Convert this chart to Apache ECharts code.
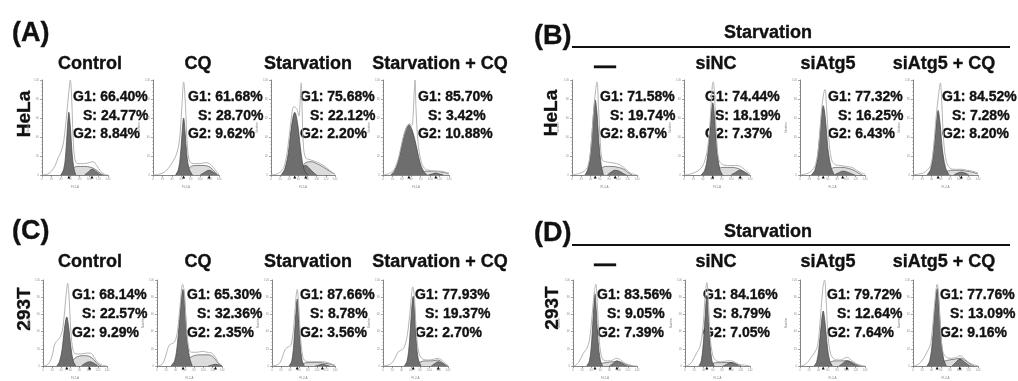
<!DOCTYPE html>
<html>
<head>
<meta charset="utf-8">
<script src="https://cdn.jsdelivr.net/npm/echarts@6/dist/echarts.min.js"></script>
<style>
html, body { margin: 0; padding: 0; background: #fff; }
#main { width: 1018px; height: 381px; }
</style>
</head>
<body>
<div id="main"></div>
<script>
// ---- labels ----
var panelLetters = ['(A)', '(B)', '(C)', '(D)'];
var cellLines = ['HeLa', '293T'];
var treatTitles = ['Control', 'CQ', 'Starvation', 'Starvation + CQ'];
var siTitles = ['\u2014', 'siNC', 'siAtg5', 'siAtg5 + CQ'];
var headerText = 'Starvation';

// order: A1..A4, B1..B4, C1..C4, D1..D4
var g1Pct = ['66.40', '61.68', '75.68', '85.70', '71.58', '74.44', '77.32', '84.52',
             '68.14', '65.30', '87.66', '77.93', '83.56', '84.16', '79.72', '77.76'];
var sPct  = ['24.77', '28.70', '22.12', '3.42', '19.74', '18.19', '16.25', '7.28',
             '22.57', '32.36', '8.78', '19.37', '9.05', '8.79', '12.64', '13.09'];
var g2Pct = ['8.84', '9.62', '2.20', '10.88', '8.67', '7.37', '6.43', '8.20',
             '9.29', '2.35', '3.56', '2.70', '7.39', '7.05', '7.64', '9.16'];

// ---- histograms, [FL2-A, count %] ----
// A: HeLa
var aCtrlRaw = [[0,0],[12,1],[20,4],[28,10],[34,18],[40,24],[46,35],[52,62],[57,88],[60,100],[63,80],[66,40],[70,16],[76,12],[88,12],[100,13],[108,14],[116,10],[124,4],[132,1],[140,0]];
var aCtrlG1 = [[40,0],[46,6],[50,20],[54,50],[57,66],[60,52],[64,22],[68,6],[72,0]];
var aCtrlS = [[60,0],[66,6],[74,9],[90,9],[104,8],[116,5],[126,1],[132,0]];
var aCtrlG2 = [[90,0],[98,3],[106,6],[114,4],[122,1],[128,0]];

var aCqRaw = [[0,0],[14,1],[24,3],[34,8],[42,14],[50,22],[56,36],[61,70],[65,98],[69,72],[73,30],[78,14],[88,12],[100,12],[112,13],[120,12],[128,8],[136,3],[140,1]];
var aCqG1 = [[48,0],[54,6],[58,20],[62,46],[65,60],[68,46],[72,20],[77,6],[84,0]];
var aCqS = [[68,0],[76,7],[88,10],[104,10],[118,9],[128,5],[136,1],[140,0]];
var aCqG2 = [[100,0],[110,3],[119,5],[128,3],[136,0]];

var aStRaw = [[0,0],[12,1],[20,3],[28,8],[36,26],[44,58],[50,72],[56,70],[61,62],[64,80],[66,97],[68,70],[71,30],[76,18],[86,16],[98,14],[108,12],[118,9],[128,5],[136,2],[140,1]];
var aStG1 = [[22,0],[30,6],[38,24],[45,52],[52,66],[58,55],[64,30],[70,10],[76,2],[82,0]];
var aStS = [[60,0],[68,8],[76,13],[88,14],[100,12],[112,9],[122,6],[132,3],[140,1]];
var aStG2 = [[56,0],[62,4],[70,9],[76,10],[84,7],[92,3],[100,0]];

var aStCqRaw = [[0,0],[10,1],[18,3],[26,8],[34,20],[42,38],[50,50],[56,54],[61,52],[64,64],[66,85],[68,100],[70,70],[74,36],[80,16],[88,7],[98,5],[110,4],[122,4],[132,3],[140,2]];
var aStCqG1 = [[16,0],[24,4],[32,14],[40,32],[48,48],[55,53],[62,47],[70,32],[78,14],[86,4],[94,0]];
var aStCqS = [[70,0],[80,3],[95,4],[110,4],[125,3],[135,2],[140,1]];
var aStCqG2 = [[96,0],[104,1],[112,2],[120,1],[128,0]];

// B: HeLa, starvation
var bNoneRaw = [[0,0],[10,1],[18,2],[26,4],[34,9],[40,26],[46,64],[51,90],[54,98],[57,72],[61,34],[65,16],[72,14],[84,13],[96,12],[106,10],[116,6],[126,2],[140,0]];
var bNoneG1 = [[28,0],[34,6],[40,24],[45,56],[50,79],[54,64],[58,34],[63,10],[68,0]];
var bNoneS = [[55,0],[62,6],[72,9],[86,9],[100,8],[112,6],[122,2],[130,0]];
var bNoneG2 = [[76,0],[84,3],[93,5],[102,4],[112,1],[118,0]];

var bNcRaw = [[0,0],[14,1],[24,3],[34,6],[42,12],[50,28],[56,62],[60,94],[62,98],[65,80],[69,40],[74,16],[82,11],[96,10],[110,10],[120,9],[130,5],[138,2],[140,1]];
var bNcG1 = [[36,0],[44,5],[50,20],[56,52],[61,76],[65,60],[70,26],[76,6],[82,0]];
var bNcS = [[64,0],[72,6],[84,8],[100,8],[114,7],[126,4],[136,1],[140,0]];
var bNcG2 = [[100,0],[110,3],[119,5],[128,3],[136,0]];

var bAtgRaw = [[0,0],[10,1],[18,2],[26,5],[34,12],[40,30],[46,66],[51,86],[54,90],[57,72],[62,38],[68,16],[76,11],[88,10],[100,9],[112,8],[122,5],[132,2],[140,1]];
var bAtgG1 = [[24,0],[32,5],[38,20],[44,50],[50,73],[55,58],[60,28],[67,8],[74,0]];
var bAtgS = [[56,0],[64,5],[76,8],[90,8],[104,7],[116,5],[126,2],[134,0]];
var bAtgG2 = [[74,0],[82,2],[92,4],[102,3],[112,1],[118,0]];

var bAtgCqRaw = [[0,0],[12,1],[22,2],[30,5],[38,10],[44,28],[50,62],[55,84],[59,97],[62,76],[66,36],[72,14],[80,7],[92,6],[104,6],[116,5],[128,4],[140,2]];
var bAtgCqG1 = [[30,0],[38,6],[44,24],[50,54],[54,68],[58,56],[63,28],[70,8],[78,0]];
var bAtgCqS = [[60,0],[70,3],[84,5],[100,5],[116,4],[128,3],[140,1]];
var bAtgCqG2 = [[88,0],[96,2],[104,3],[112,2],[120,0]];

// C: 293T
var cCtrlRaw = [[0,0],[8,1],[14,4],[20,12],[26,26],[32,30],[38,34],[44,46],[50,80],[54,96],[57,80],[61,40],[66,18],[72,14],[84,14],[96,15],[104,15],[112,10],[120,4],[130,1],[140,0]];
var cCtrlG1 = [[30,0],[36,5],[42,20],[47,44],[52,57],[56,46],[61,22],[66,6],[72,0]];
var cCtrlS = [[58,0],[66,7],[76,11],[90,12],[102,11],[112,7],[120,2],[128,0]];
var cCtrlG2 = [[84,0],[92,3],[102,5],[112,3],[120,0]];

var cCqRaw = [[0,0],[8,1],[14,4],[20,14],[26,24],[32,26],[38,28],[44,40],[50,72],[55,95],[59,86],[63,48],[68,22],[74,16],[86,16],[98,17],[108,16],[118,15],[126,10],[132,4],[140,1]];
var cCqG1 = [[30,0],[38,6],[44,26],[50,64],[56,89],[60,70],[65,32],[70,10],[76,0]];
var cCqS = [[60,0],[68,8],[80,12],[96,13],[110,13],[120,11],[128,6],[134,2],[140,0]];
var cCqG2 = [[110,0],[118,1],[126,2],[134,1],[140,0]];

var cStRaw = [[0,0],[10,1],[18,4],[24,12],[30,20],[36,22],[42,24],[48,44],[53,78],[56,89],[59,74],[63,36],[68,12],[74,6],[88,5],[100,5],[112,5],[124,4],[134,2],[140,1]];
var cStG1 = [[38,0],[44,6],[49,30],[53,62],[56,78],[59,60],[63,26],[67,6],[72,0]];
var cStS = [[62,0],[70,3],[86,4],[104,4],[120,3],[132,2],[140,0]];
var cStG2 = [[96,0],[104,1],[112,2],[120,1],[128,0]];

var cStCqRaw = [[0,0],[10,1],[18,3],[26,9],[32,16],[38,18],[46,22],[54,42],[60,74],[64,92],[68,78],[72,38],[78,14],[86,8],[98,7],[110,8],[118,9],[126,7],[134,3],[140,1]];
var cStCqG1 = [[46,0],[52,6],[57,28],[61,60],[65,81],[68,64],[72,28],[76,8],[82,0]];
var cStCqS = [[70,0],[78,4],[92,6],[106,6],[118,7],[128,4],[136,1],[140,0]];
var cStCqG2 = [[104,0],[112,3],[119,5],[128,3],[136,0]];

// D: 293T, starvation
var dNoneRaw = [[0,0],[6,1],[12,4],[18,10],[24,16],[30,20],[36,30],[42,60],[47,88],[50,95],[53,74],[57,34],[62,12],[70,6],[82,6],[90,8],[96,9],[104,7],[114,3],[126,1],[140,0]];
var dNoneG1 = [[30,0],[36,6],[41,30],[45,66],[48,84],[51,64],[55,28],[60,6],[65,0]];
var dNoneS = [[54,0],[62,3],[74,4],[86,5],[100,5],[112,3],[122,1],[130,0]];
var dNoneG2 = [[80,0],[88,3],[96,6],[104,4],[114,1],[120,0]];

var dNcRaw = [[0,0],[8,1],[14,4],[20,10],[26,16],[32,22],[38,40],[43,78],[47,97],[50,80],[54,36],[60,12],[68,6],[80,5],[92,6],[98,6],[106,5],[116,2],[128,1],[140,0]];
var dNcG1 = [[30,0],[35,6],[40,30],[44,64],[47,82],[50,62],[54,26],[58,6],[63,0]];
var dNcS = [[52,0],[60,3],[72,4],[86,4],[100,4],[112,2],[122,0]];
var dNcG2 = [[82,0],[90,2],[97,4],[106,3],[116,0]];

var dAtgRaw = [[0,0],[8,1],[16,4],[24,10],[32,16],[38,24],[44,56],[49,90],[53,100],[56,80],[60,38],[66,14],[74,8],[86,7],[96,9],[102,10],[110,7],[120,3],[130,1],[140,0]];
var dAtgG1 = [[30,0],[36,5],[41,22],[46,50],[50,64],[54,50],[59,22],[64,6],[70,0]];
var dAtgS = [[56,0],[64,4],[76,6],[90,6],[102,6],[114,4],[124,1],[132,0]];
var dAtgG2 = [[84,0],[92,3],[101,6],[110,4],[120,1],[126,0]];

var dAtgCqRaw = [[0,0],[8,1],[16,4],[24,10],[32,18],[38,26],[44,56],[49,86],[52,95],[55,86],[59,46],[64,18],[72,10],[84,9],[94,10],[101,12],[108,10],[118,5],[128,2],[140,0]];
var dAtgCqG1 = [[30,0],[36,6],[42,30],[47,68],[52,90],[56,70],[61,30],[66,8],[72,0]];
var dAtgCqS = [[58,0],[66,5],[78,7],[90,8],[102,9],[114,6],[124,2],[132,0]];
var dAtgCqG2 = [[84,0],[92,4],[101,8],[110,5],[120,1],[126,0]];

var hists = [
  [aCtrlRaw, aCtrlG1, aCtrlS, aCtrlG2], [aCqRaw, aCqG1, aCqS, aCqG2],
  [aStRaw, aStG1, aStS, aStG2], [aStCqRaw, aStCqG1, aStCqS, aStCqG2],
  [bNoneRaw, bNoneG1, bNoneS, bNoneG2], [bNcRaw, bNcG1, bNcS, bNcG2],
  [bAtgRaw, bAtgG1, bAtgS, bAtgG2], [bAtgCqRaw, bAtgCqG1, bAtgCqS, bAtgCqG2],
  [cCtrlRaw, cCtrlG1, cCtrlS, cCtrlG2], [cCqRaw, cCqG1, cCqS, cCqG2],
  [cStRaw, cStG1, cStS, cStG2], [cStCqRaw, cStCqG1, cStCqS, cStCqG2],
  [dNoneRaw, dNoneG1, dNoneS, dNoneG2], [dNcRaw, dNcG1, dNcS, dNcG2],
  [dAtgRaw, dAtgG1, dAtgS, dAtgG2], [dAtgCqRaw, dAtgCqG1, dAtgCqS, dAtgCqG2]
];

// ---- layout (px) ----
var rowBox = [{ top: 80, height: 95 }, { top: 280, height: 93 }];
var colBox = [
  [[42, 66], [153, 66], [271, 64], [383, 66], [572, 65], [684, 66], [800, 65], [913, 65]],
  [[43, 64], [157, 65], [272, 63], [383, 65], [573, 64], [685, 65], [800, 65], [913, 65]]
];
var pctLeft = [
  [73, 188, 300, 418, 600, 705, 828, 942],
  [72, 187, 300, 415, 597, 703, 827, 940]
];
var pctY = [[97, 116, 134], [295, 314, 333]];
var titleX = [90, 198, 308, 440, 605, 716, 828, 944];
var titleY = [64, 262];

var FONT = '"Liberation Sans", Arial, sans-serif';

var myChart = echarts.init(document.getElementById('main'));

var grids = [], xAxes = [], yAxes = [], series = [], graphics = [];

function text(x, y, str, size, align, rot) {
  var el = {
    type: 'text',
    x: x,
    y: y,
    style: {
      text: str,
      fontSize: size,
      fontWeight: 'bold',
      fontFamily: FONT,
      fill: '#111',
      stroke: '#111',
      lineWidth: 0.35,
      align: align || 'left',
      verticalAlign: 'middle'
    }
  };
  if (rot) el.rotation = rot;
  graphics.push(el);
}

// x of the highest point of a fitted peak (for the little baseline marker)
function peakX(arr) {
  var best = arr[0];
  arr.forEach(function (p) { if (p[1] > best[1]) best = p; });
  return best[0];
}

for (var r = 0; r < 2; r++) {
  for (var c = 0; c < 8; c++) {
    var i = r * 8 + c;
    var box = colBox[r][c];
    grids.push({ left: box[0], width: box[1], top: rowBox[r].top, height: rowBox[r].height });
    xAxes.push({
      type: 'value', gridIndex: i, min: 0, max: 140, interval: 20,
      name: 'FL2-A', nameLocation: 'middle', nameGap: 11,
      nameTextStyle: { fontSize: 3, color: '#888' },
      axisLine: { lineStyle: { color: '#666', width: 0.8 } },
      axisTick: { length: 2, lineStyle: { color: '#666', width: 0.6 } },
      minorTick: { show: true, splitNumber: 2, length: 1, lineStyle: { color: '#888', width: 0.5 } },
      axisLabel: { fontSize: 3, color: '#999', margin: 3 },
      splitLine: { show: false }
    });
    yAxes.push({
      type: 'value', gridIndex: i, min: 0, max: 100, interval: 20,
      name: 'Number', nameLocation: 'middle', nameGap: 7,
      nameTextStyle: { fontSize: 3, color: '#888' },
      axisLine: { show: true, lineStyle: { color: '#666', width: 0.8 } },
      axisTick: { show: true, length: 2, lineStyle: { color: '#666', width: 0.6 } },
      minorTick: { show: true, splitNumber: 5, length: 1, lineStyle: { color: '#999', width: 0.5 } },
      axisLabel: { fontSize: 3, color: '#999', margin: 3 },
      splitLine: { show: false }
    });

    var h = hists[i];
    series.push({
      type: 'line', xAxisIndex: i, yAxisIndex: i, data: h[2], smooth: 0.4,
      showSymbol: false, z: 1, silent: true,
      lineStyle: { color: '#555', width: 0.7 },
      areaStyle: { color: '#dcdcdc', opacity: 1 }
    });
    series.push({
      type: 'line', xAxisIndex: i, yAxisIndex: i, data: h[3], smooth: 0.4,
      showSymbol: false, z: 2, silent: true,
      lineStyle: { color: '#444', width: 0.7 },
      areaStyle: { color: '#767676', opacity: 1 },
      markPoint: {
        symbol: 'triangle', symbolSize: 3, silent: true, label: { show: false },
        itemStyle: { color: '#111' },
        data: [{ coord: [peakX(h[3]), 0], symbolOffset: [0, 2] }]
      }
    });
    series.push({
      type: 'line', xAxisIndex: i, yAxisIndex: i, data: h[1], smooth: 0.35,
      showSymbol: false, z: 3, silent: true,
      lineStyle: { color: '#444', width: 0.7 },
      areaStyle: { color: '#6e6e6e', opacity: 1 },
      markPoint: {
        symbol: 'triangle', symbolSize: 3, silent: true, label: { show: false },
        itemStyle: { color: '#111' },
        data: [{ coord: [peakX(h[1]), 0], symbolOffset: [0, 2] }]
      }
    });
    series.push({
      type: 'line', xAxisIndex: i, yAxisIndex: i, data: h[0], smooth: 0.35,
      showSymbol: false, z: 4, silent: true,
      lineStyle: { color: '#b4b4b4', width: 1 }
    });

    // percentages
    var lx = pctLeft[r][c];
    text(lx, pctY[r][0], 'G1: ' + g1Pct[i] + '%', 14);
    text(lx + 10, pctY[r][1], 'S: ' + sPct[i] + '%', 14);
    text(lx, pctY[r][2], 'G2: ' + g2Pct[i] + '%', 14);

    // column titles
    if (c < 4) {
      text(titleX[c], titleY[r], treatTitles[c], 18, 'center');
    } else if (c === 4) {
      text(titleX[c], titleY[r] + 3, siTitles[0], 22, 'center');
    } else {
      text(titleX[c], titleY[r], siTitles[c - 4], 18, 'center');
    }
  }
}

// panel letters, header and cell-line labels
text(12, 34, panelLetters[0], 27);
text(534, 37, panelLetters[1], 27);
text(12, 232, panelLetters[2], 27);
text(534, 234, panelLetters[3], 27);

text(768, 33, headerText, 18, 'center');
text(768, 232, headerText, 18, 'center');
graphics.push({ type: 'line', shape: { x1: 572, y1: 47, x2: 1010, y2: 47 }, style: { stroke: '#111', lineWidth: 2 } });
graphics.push({ type: 'line', shape: { x1: 572, y1: 245, x2: 1010, y2: 245 }, style: { stroke: '#111', lineWidth: 2 } });

text(25, 114, cellLines[0], 19, 'center', Math.PI / 2);
text(552, 113, cellLines[0], 19, 'center', Math.PI / 2);
text(25, 309, cellLines[1], 19, 'center', Math.PI / 2);
text(553, 308, cellLines[1], 19, 'center', Math.PI / 2);

myChart.setOption({
  backgroundColor: '#fff',
  animation: false,
  grid: grids,
  xAxis: xAxes,
  yAxis: yAxes,
  series: series,
  graphic: graphics
});
</script>
</body>
</html>
